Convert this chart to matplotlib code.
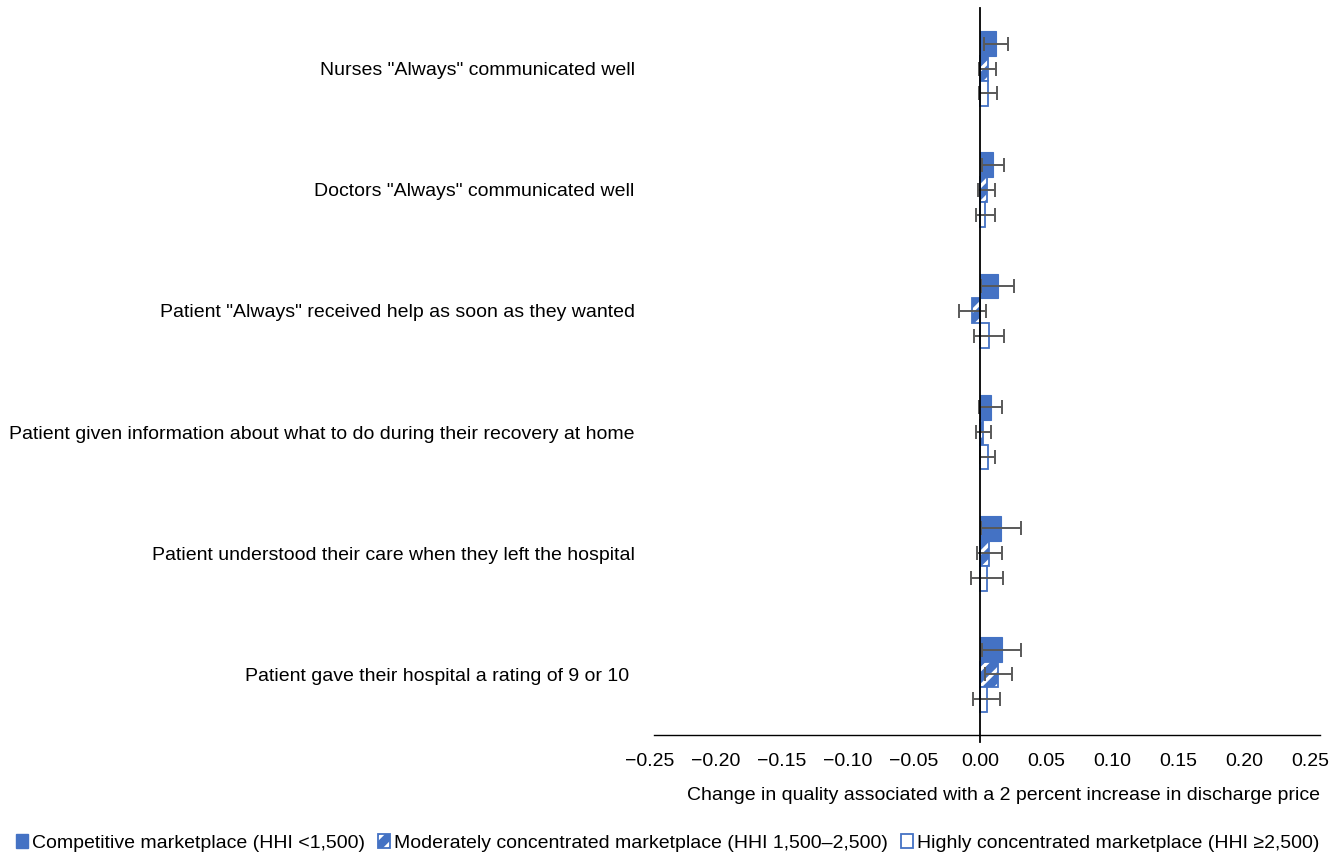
import numpy as np
import matplotlib
matplotlib.use("Agg")
import matplotlib.pyplot as plt
from matplotlib.patches import Patch

plt.rcParams['font.family'] = ['Liberation Sans', 'DejaVu Sans']
plt.rcParams['hatch.linewidth'] = 2.5

# measures, top to bottom
measures = [
    'Nurses "Always" communicated well',
    'Doctors "Always" communicated well',
    'Patient "Always" received help as soon as they wanted',
    'Patient given information about what to do during their recovery at home',
    'Patient understood their care when they left the hospital',
    'Patient gave their hospital a rating of 9 or 10 ',
]

series_names = [
    'Competitive marketplace (HHI <1,500)',
    'Moderately concentrated marketplace (HHI 1,500\u20132,500)',
    'Highly concentrated marketplace (HHI \u22652,500)',
]

competitive = [0.012, 0.0096, 0.0136, 0.008, 0.016, 0.0166]
competitive_err = [0.0093, 0.0083, 0.0125, 0.0084, 0.015, 0.0148]

moderate = [0.006, 0.005, -0.0058, 0.0025, 0.007, 0.0138]
moderate_err = [0.0064, 0.0063, 0.0103, 0.0059, 0.0093, 0.0103]

high = [0.006, 0.0038, 0.007, 0.006, 0.0053, 0.005]
high_err = [0.007, 0.0072, 0.0112, 0.0057, 0.0118, 0.0103]

xticks = [-0.25, -0.20, -0.15, -0.10, -0.05, 0.0, 0.05, 0.10, 0.15, 0.20, 0.25]

blue = '#4472C4'

W, H = 1341, 856
fig = plt.figure(figsize=(W / 100, H / 100), dpi=100)
ax = fig.add_axes([650 / W, 1 - 735 / H, (1310 - 650) / W, (735 - 8) / H])

y = np.arange(len(measures))
h = 0.205
err_kw = dict(ecolor='#595959', capsize=5, elinewidth=1.4, capthick=1.4)

ax.barh(y - h, competitive, height=h, xerr=competitive_err, color=blue,
        edgecolor=blue, linewidth=0.8, error_kw=err_kw, zorder=2)
ax.barh(y, moderate, height=h, color=blue, edgecolor='white',
        hatch='//', linewidth=0, zorder=2)
ax.barh(y, moderate, height=h, xerr=moderate_err, fill=False,
        edgecolor=blue, linewidth=1.3, error_kw=err_kw, zorder=2)
ax.barh(y + h, high, height=h, xerr=high_err, color='white',
        edgecolor=blue, linewidth=1.3, error_kw=err_kw, zorder=2)

ax.set_ylim(5.5, -0.5)
ax.set_xlim(-0.25, 0.25)
ax.set_xticks(xticks)
ax.set_xticklabels([f'{v:.2f}'.replace('-', '\u2212') for v in xticks], fontsize=14)
ax.set_yticks(y)
ax.set_yticklabels(measures, fontsize=14)
ax.tick_params(axis='both', length=0)
ax.tick_params(axis='y', pad=11)
ax.tick_params(axis='x', pad=13)

for s in ['top', 'right', 'left', 'bottom']:
    ax.spines[s].set_visible(False)
# horizontal axis line, a little wider than the tick range
ax.plot([(654 - 650) / 660, (1320 - 650) / 660], [0, 0], transform=ax.transAxes,
        color='black', linewidth=1.0, clip_on=False, zorder=3)
ax.axvline(0, ymin=-0.01, ymax=1.0, color='black', linewidth=1.3, clip_on=False, zorder=3)

ax.set_xlabel('Change in quality associated with a 2 percent increase in discharge price',
              fontsize=14, ha='right', va='center')
ax.xaxis.set_label_coords((1320 - 650) / 660, (735 - 795) / 727)

handles = [
    Patch(facecolor=blue, edgecolor=blue),
    (Patch(facecolor=blue, edgecolor='white', hatch='//', linewidth=0),
     Patch(fill=False, edgecolor=blue, linewidth=1.3)),
    Patch(facecolor='white', edgecolor=blue, linewidth=1.3),
]
fig.legend(handles, series_names, loc='center', bbox_to_anchor=(0.498, 1 - 843 / H),
           ncol=3, frameon=False, fontsize=14, handlelength=0.6, handleheight=0.7,
           handletextpad=0.2, columnspacing=0.7)

fig.savefig('out.png', dpi=100)
